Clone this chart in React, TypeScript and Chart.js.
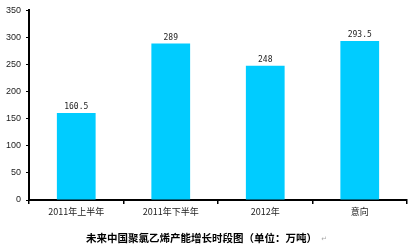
import React, { useEffect, useRef } from "react";
import { Chart, registerables } from "chart.js";

Chart.register(...registerables);

const categories = ["2011年上半年", "2011年下半年", "2012年", "意向"];
const capacity = [160.5, 289, 248, 293.5];
const valueLabels = ["160.5", "289", "248", "293.5"];
const titleText = "未来中国聚氯乙烯产能增长时段图（单位：万吨）";
const yMin = 0;
const yMax = 350;
const yStep = 50;

const valueLabelPlugin = {
  id: "valueLabels",
  afterDatasetsDraw(chart: any) {
    const ctx = chart.ctx;
    const meta = chart.getDatasetMeta(0);
    ctx.save();
    ctx.font = "8px 'DejaVu Sans Mono', monospace";
    ctx.fillStyle = "#222";
    ctx.textAlign = "center";
    ctx.textBaseline = "bottom";
    meta.data.forEach((bar: any, i: number) => {
      ctx.fillText(valueLabels[i], bar.x, bar.y - 2);
    });
    ctx.restore();
  },
};

const bottomTitlePlugin = {
  id: "bottomTitle",
  afterDraw(chart: any) {
    const ctx = chart.ctx;
    ctx.save();
    ctx.font = "bold 10.5px 'Noto Sans CJK SC', sans-serif";
    ctx.textBaseline = "middle";
    const w = ctx.measureText(titleText).width;
    const mark = " ↵";
    ctx.font = "7px 'DejaVu Sans', sans-serif";
    const mw = ctx.measureText(mark).width;
    const start = chart.width / 2 - (w + mw) / 2;
    ctx.font = "bold 10.5px 'Noto Sans CJK SC', sans-serif";
    ctx.fillStyle = "#000";
    ctx.textAlign = "left";
    ctx.fillText(titleText, start, 238);
    ctx.font = "7px 'DejaVu Sans', sans-serif";
    ctx.fillStyle = "#aaa";
    ctx.fillText(mark, start + w + 2, 239);
    ctx.restore();
  },
};

export default function App() {
  const ref = useRef<HTMLCanvasElement>(null);

  useEffect(() => {
    if (!ref.current) return;
    const chart = new Chart(ref.current, {
      type: "bar",
      data: {
        labels: categories,
        datasets: [
          {
            data: capacity,
            backgroundColor: "rgb(0, 204, 255)",
            borderWidth: 0,
            categoryPercentage: 1,
            barPercentage: 0.41,
          },
        ],
      },
      options: {
        responsive: false,
        animation: false,
        devicePixelRatio: 1,
        layout: { padding: { top: 10, right: 4, left: 0, bottom: 0 } },
        plugins: {
          legend: { display: false },
          tooltip: { enabled: false },
          title: { display: false },
        },
        scales: {
          x: {
            offset: true,
            grid: {
              display: true,
              drawOnChartArea: false,
              drawTicks: true,
              tickLength: 4,
              color: "#000",
              lineWidth: 1.5,
              offset: true,
            },
            border: { display: true, color: "#000", width: 2 },
            ticks: {
              color: "#222",
              font: { family: "'Noto Sans CJK SC', 'Liberation Sans', sans-serif", size: 9 },
              padding: 2,
              maxRotation: 0,
            },
            afterFit(scale: any) {
              scale.height = 50;
            },
          },
          y: {
            min: yMin,
            max: yMax,
            grid: {
              display: true,
              drawOnChartArea: false,
              drawTicks: true,
              tickLength: 3,
              color: "#000",
              lineWidth: 1,
            },
            border: { display: true, color: "#000", width: 2 },
            ticks: {
              stepSize: yStep,
              color: "#222",
              font: { family: "'Liberation Sans', Arial, sans-serif", size: 9 },
              padding: 5,
            },
            afterFit(scale: any) {
              scale.width = 29;
            },
          },
        },
      },
      plugins: [valueLabelPlugin, bottomTitlePlugin],
    });
    return () => chart.destroy();
  }, []);

  return (
    <canvas
      ref={ref}
      width={411}
      height={250}
      style={{ position: "fixed", left: 0, top: 0, background: "#fff" }}
    />
  );
}
